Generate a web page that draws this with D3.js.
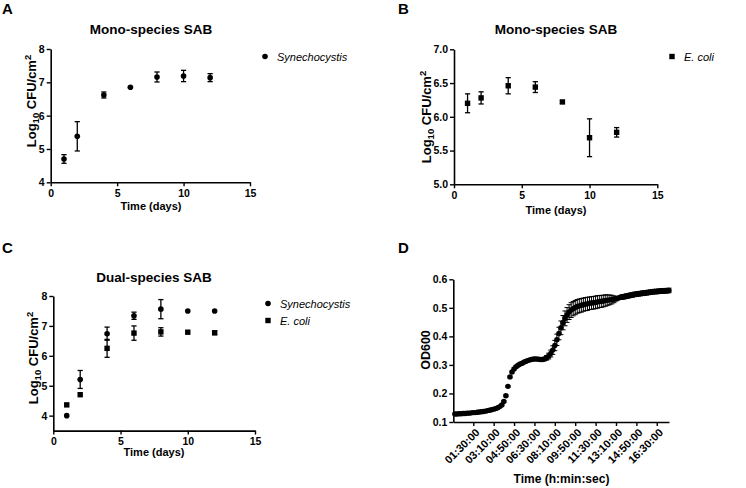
<!DOCTYPE html>
<html>
<head>
<meta charset="utf-8">
<script src="https://cdnjs.cloudflare.com/ajax/libs/d3/7.8.5/d3.min.js"></script>
<style>
	body { margin: 0; background: #fff; }
	svg { font-family: "Liberation Sans", Arial, sans-serif; }
</style>
</head>
<body>
<script>
// biofilm counts (log10 CFU/cm2), panels A-C
var days = [1, 2, 4, 6, 8, 10, 12];
var synMonoMean = [4.70, 5.38, 6.62, 6.85, 7.16, 7.19, 7.14];
var synMonoSD = [0.13, 0.44, 0.09, 0.02, 0.15, 0.17, 0.12];
var ecoliMonoMean = [6.20, 6.28, 6.46, 6.44, 6.22, 5.69, 5.77];
var ecoliMonoSD = [0.14, 0.09, 0.12, 0.08, 0.02, 0.28, 0.07];
var synDualMean = [4.00, 5.21, 6.74, 7.34, 7.56, 7.50, 7.50];
var synDualSD = [0, 0.30, 0.22, 0.12, 0.32, 0, 0];
var ecoliDualMean = [4.36, 4.70, 6.25, 6.76, 6.80, 6.79, 6.77];
var ecoliDualSD = [0, 0, 0.30, 0.24, 0.14, 0, 0.06];
var dayTicks = [0, 5, 10, 15];

// growth curve, panel D (minutes, OD600)
var odMinutes = [0, 10, 20, 30, 40, 50, 60, 70, 80, 90,
	100, 110, 120, 130, 140, 150, 160, 170, 180, 190,
	200, 210, 220, 230, 240, 250, 260, 270, 280, 290,
	300, 310, 320, 330, 340, 350, 360, 370, 380, 390,
	400, 410, 420, 430, 440, 450, 460, 470, 480, 490,
	500, 510, 520, 530, 540, 550, 560, 570, 580, 590,
	600, 610, 620, 630, 640, 650, 660, 670, 680, 690,
	700, 710, 720, 730, 740, 750, 760, 770, 780, 790,
	800, 810, 820, 830, 840, 850, 860, 870, 880, 890,
	900, 910, 920, 930, 940, 950, 960, 970, 980, 990,
	1000, 1010, 1020, 1030, 1040, 1050];
var odMean = [0.128, 0.128, 0.129, 0.129, 0.130, 0.130, 0.131, 0.131, 0.132, 0.133,
	0.133, 0.134, 0.135, 0.136, 0.137, 0.138, 0.140, 0.141, 0.143, 0.145,
	0.147, 0.150, 0.154, 0.160, 0.172, 0.192, 0.225, 0.258, 0.275, 0.286,
	0.294, 0.299, 0.303, 0.306, 0.310, 0.313, 0.316, 0.318, 0.320, 0.321,
	0.321, 0.320, 0.319, 0.319, 0.321, 0.325, 0.331, 0.340, 0.352, 0.368,
	0.388, 0.410, 0.430, 0.448, 0.463, 0.475, 0.485, 0.492, 0.497, 0.501,
	0.505, 0.507, 0.509, 0.511, 0.513, 0.514, 0.516, 0.517, 0.518, 0.519,
	0.521, 0.522, 0.523, 0.524, 0.526, 0.527, 0.528, 0.529, 0.530, 0.532,
	0.534, 0.536, 0.538, 0.539, 0.541, 0.542, 0.544, 0.545, 0.547, 0.548,
	0.549, 0.550, 0.551, 0.552, 0.553, 0.554, 0.555, 0.556, 0.557, 0.557,
	0.558, 0.559, 0.559, 0.560, 0.560, 0.561];
var odSD = [0.002, 0.002, 0.002, 0.002, 0.002, 0.002, 0.002, 0.002, 0.002, 0.002,
	0.002, 0.002, 0.002, 0.002, 0.002, 0.002, 0.002, 0.002, 0.002, 0.002,
	0.002, 0.003, 0.003, 0.003, 0.003, 0.003, 0.003, 0.003, 0.003, 0.003,
	0.004, 0.004, 0.004, 0.004, 0.004, 0.004, 0.004, 0.004, 0.004, 0.004,
	0.004, 0.004, 0.004, 0.004, 0.006, 0.008, 0.010, 0.012, 0.015, 0.018,
	0.020, 0.022, 0.024, 0.025, 0.026, 0.026, 0.026, 0.026, 0.025, 0.025,
	0.024, 0.024, 0.024, 0.023, 0.023, 0.023, 0.022, 0.022, 0.022, 0.022,
	0.022, 0.021, 0.021, 0.020, 0.020, 0.018, 0.017, 0.015, 0.012, 0.008,
	0.004, 0.006, 0.008, 0.008, 0.008, 0.008, 0.008, 0.008, 0.008, 0.008,
	0.008, 0.008, 0.008, 0.008, 0.008, 0.008, 0.008, 0.008, 0.008, 0.008,
	0.008, 0.008, 0.008, 0.008, 0.008, 0.008];
var odTickMinutes = [90, 190, 290, 390, 490, 590, 690, 790, 890, 990];
var odTickLabels = ["01:30:00", "03:10:00", "04:50:00", "06:30:00", "08:10:00",
	"09:50:00", "11:30:00", "13:10:00", "14:50:00", "16:30:00"];

var w = 746;
var h = 488;
var svg = d3.select("body").append("svg")
	.attr("width", w)
	.attr("height", h);

svg.append("rect").attr("width", w).attr("height", h).attr("fill", "#fff");

function styleAxis(g, size) {
	g.select(".domain").attr("stroke", "#000").attr("stroke-width", 1.6);
	g.selectAll(".tick line").attr("stroke", "#000").attr("stroke-width", 1.4);
	g.selectAll(".tick text")
		.attr("font-family", "Liberation Sans, Arial, sans-serif")
		.attr("font-size", size || "10.5px")
		.attr("font-weight", "bold")
		.attr("fill", "#000");
}

function symbol(g, shape, x, y) {
	if (shape == "circle") {
		g.append("circle").attr("cx", x).attr("cy", y).attr("r", 2.8).attr("fill", "#000");
	} else {
		g.append("rect").attr("x", x - 2.7).attr("y", y - 2.7)
			.attr("width", 5.4).attr("height", 5.4).attr("fill", "#000");
	}
}

function yLabelLog(x, y) {
	var t = svg.append("text")
		.attr("transform", "translate(" + x + "," + y + ") rotate(-90)")
		.attr("text-anchor", "middle")
		.attr("font-size", "13px")
		.attr("font-weight", "bold");
	t.append("tspan").text("Log");
	t.append("tspan").attr("font-size", "9.5px").attr("dy", 3).text("10");
	t.append("tspan").attr("dy", -3).text(" CFU/cm");
	t.append("tspan").attr("font-size", "9.5px").attr("dy", -5).text("2");
}

function scatterPanel(p) {
	var x = d3.scaleLinear().domain([0, 15]).range([p.x0, p.x1]);
	var y = d3.scaleLinear().domain(p.yDomain).range([p.y0, p.y1]);

	var gx = svg.append("g")
		.attr("transform", "translate(0," + p.y0 + ")")
		.call(d3.axisBottom(x).tickValues(dayTicks).tickSize(4).tickSizeOuter(0).tickPadding(3));
	styleAxis(gx);
	var gy = svg.append("g")
		.attr("transform", "translate(" + p.x0 + ",0)")
		.call(d3.axisLeft(y).tickValues(p.yTicks).tickFormat(d3.format(p.yFormat))
			.tickSize(4).tickSizeOuter(0).tickPadding(2));
	styleAxis(gy);

	p.series.forEach(function(s) {
		var g = svg.append("g");
		// error bars first so tiny ones hide behind the marker
		s.mean.forEach(function(m, i) {
			if (!s.sd[i]) return;
			var cx = x(days[i]);
			var top = y(m + s.sd[i]);
			var bot = y(m - s.sd[i]);
			g.append("line").attr("x1", cx).attr("x2", cx).attr("y1", top).attr("y2", bot)
				.attr("stroke", "#000").attr("stroke-width", 1.3);
			g.append("line").attr("x1", cx - 2.6).attr("x2", cx + 2.6).attr("y1", top).attr("y2", top)
				.attr("stroke", "#000").attr("stroke-width", 1.3);
			g.append("line").attr("x1", cx - 2.6).attr("x2", cx + 2.6).attr("y1", bot).attr("y2", bot)
				.attr("stroke", "#000").attr("stroke-width", 1.3);
		});
		s.mean.forEach(function(m, i) {
			symbol(g, s.shape, x(days[i]), y(m));
		});
	});

	// legend
	p.series.forEach(function(s, i) {
		var ly = p.legendY + i * 17;
		symbol(svg, s.shape, p.legendX, ly);
		svg.append("text")
			.attr("x", p.legendX + 12)
			.attr("y", ly + 4)
			.attr("font-size", "11px")
			.attr("font-style", "italic")
			.text(s.name);
	});

	svg.append("text")
		.attr("x", p.titleX).attr("y", p.titleY)
		.attr("text-anchor", "middle")
		.attr("font-size", "13.5px").attr("font-weight", "bold")
		.text(p.title);
	svg.append("text")
		.attr("x", p.titleX).attr("y", p.xLabelY)
		.attr("text-anchor", "middle")
		.attr("font-size", "11px").attr("font-weight", "bold")
		.text("Time (days)");
	yLabelLog(p.yLabelX, p.yLabelMid);
	svg.append("text")
		.attr("x", p.letterX).attr("y", p.letterY)
		.attr("font-size", "15px").attr("font-weight", "bold")
		.text(p.letter);
}

scatterPanel({
	letter: "A", letterX: 2, letterY: 14,
	title: "Mono-species SAB", titleX: 151, titleY: 34,
	x0: 50.7, x1: 250, y0: 182.3, y1: 49,
	yDomain: [4, 8], yTicks: [4, 5, 6, 7, 8], yFormat: "d",
	xLabelY: 210, yLabelX: 36, yLabelMid: 101,
	legendX: 265, legendY: 56.5,
	series: [{ name: "Synechocystis", shape: "circle", mean: synMonoMean, sd: synMonoSD }]
});

scatterPanel({
	letter: "B", letterX: 398, letterY: 14,
	title: "Mono-species SAB", titleX: 556, titleY: 34,
	x0: 454, x1: 657.3, y0: 184.3, y1: 49.3,
	yDomain: [5, 7], yTicks: [5, 5.5, 6, 6.5, 7], yFormat: ".1f",
	xLabelY: 214, yLabelX: 431, yLabelMid: 117,
	legendX: 672, legendY: 56.5,
	series: [{ name: "E. coli", shape: "square", mean: ecoliMonoMean, sd: ecoliMonoSD }]
});

scatterPanel({
	letter: "C", letterX: 2, letterY: 253,
	title: "Dual-species SAB", titleX: 154, titleY: 282,
	x0: 53.3, x1: 255, y0: 430.6, y1: 296,
	yDomain: [3.5, 8], yTicks: [4, 5, 6, 7, 8], yFormat: "d",
	xLabelY: 456, yLabelX: 38, yLabelMid: 358,
	legendX: 268, legendY: 303.5,
	series: [
		{ name: "Synechocystis", shape: "circle", mean: synDualMean, sd: synDualSD },
		{ name: "E. coli", shape: "square", mean: ecoliDualMean, sd: ecoliDualSD }
	]
});

// panel D: growth curve
var xD = d3.scaleLinear().domain([-8, 1050]).range([453.3, 669]);
var yD = d3.scaleLinear().domain([0.1, 0.6]).range([422, 279.3]);

var gxD = svg.append("g")
	.attr("transform", "translate(0,422)")
	.call(d3.axisBottom(xD).tickValues(odTickMinutes)
		.tickFormat(function(d, i) { return odTickLabels[i]; })
		.tickSize(4).tickSizeOuter(0).tickPadding(3));
styleAxis(gxD, "11px");
gxD.selectAll(".tick text")
	.attr("text-anchor", "end")
	.attr("dx", "-0.3em")
	.attr("dy", "0.5em")
	.attr("transform", "rotate(-45)");

var gyD = svg.append("g")
	.attr("transform", "translate(453.3,0)")
	.call(d3.axisLeft(yD).tickValues([0.1, 0.2, 0.3, 0.4, 0.5, 0.6])
		.tickFormat(d3.format(".1f")).tickSize(4).tickSizeOuter(0).tickPadding(2));
styleAxis(gyD);

var gD = svg.append("g");
gD.selectAll("line.err")
	.data(odMean)
	.enter()
	.append("line")
	.attr("class", "err")
	.attr("x1", function(d, i) { return xD(odMinutes[i]); })
	.attr("x2", function(d, i) { return xD(odMinutes[i]); })
	.attr("y1", function(d, i) { return yD(d + odSD[i]); })
	.attr("y2", function(d, i) { return yD(d - odSD[i]); })
	.attr("stroke", "#000").attr("stroke-width", 1);
[1, -1].forEach(function(sign) {
	gD.selectAll("line.cap" + sign)
		.data(odMean)
		.enter()
		.append("line")
		.attr("x1", function(d, i) { return xD(odMinutes[i]) - 2.5; })
		.attr("x2", function(d, i) { return xD(odMinutes[i]) + 2.5; })
		.attr("y1", function(d, i) { return yD(d + sign * odSD[i]); })
		.attr("y2", function(d, i) { return yD(d + sign * odSD[i]); })
		.attr("stroke", "#000").attr("stroke-width", 1);
});
gD.selectAll("circle")
	.data(odMean)
	.enter()
	.append("circle")
	.attr("cx", function(d, i) { return xD(odMinutes[i]); })
	.attr("cy", function(d) { return yD(d); })
	.attr("r", 2.7)
	.attr("fill", "#000");

svg.append("text")
	.attr("transform", "translate(430,350) rotate(-90)")
	.attr("text-anchor", "middle")
	.attr("font-size", "12.5px").attr("font-weight", "bold")
	.text("OD600");
svg.append("text")
	.attr("x", 561.5).attr("y", 483)
	.attr("text-anchor", "middle")
	.attr("font-size", "12px").attr("font-weight", "bold")
	.text("Time (h:min:sec)");
svg.append("text")
	.attr("x", 398).attr("y", 253)
	.attr("font-size", "15px").attr("font-weight", "bold")
	.text("D");
</script>
</body>
</html>
